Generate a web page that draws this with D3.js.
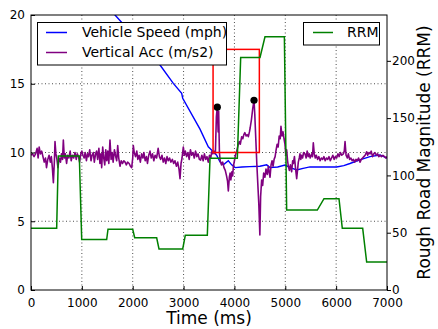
<!DOCTYPE html>
<html>
<head>
<meta charset="utf-8">
<script src="https://cdn.jsdelivr.net/npm/d3@7"></script>
<style>
  body { margin: 0; background: #fff; }
  text { font-family: "DejaVu Sans", sans-serif; }
</style>
</head>
<body>
<div id="chart"></div>
<script>
// Vehicle speed (mph), left axis
const speedData = [
  [1200, 21.9], [1652, 20], [2537, 16.36], [2798, 15.03], [2963, 14.3], [2983, 13.94],
  [3323, 11.7], [3486, 10.42], [3585, 10.06], [3650, 9.8], [3716, 9.33], [3781, 9.1],
  [3880, 9.4], [3946, 9.1], [4012, 8.9], [4150, 8.95], [4300, 8.97], [4500, 9.0],
  [4634, 9.1], [4700, 8.9], [4850, 8.95], [4994, 9.09], [5100, 8.9], [5224, 8.73],
  [5350, 8.85], [5486, 8.95], [5750, 8.95], [6010, 8.95], [6150, 9.05], [6272, 9.2],
  [6450, 9.45], [6665, 9.7], [6862, 9.82], [7000, 9.6]
];

// Vertical acceleration (m/s2), left axis
const accData = [
  [0, 9.8], [30, 9.9], [60, 9.7], [90, 9.9], [120, 10.3], [140, 9.6], [160, 10.4], [185, 9.9],
  [210, 10.1], [235, 9.7], [260, 9.3], [285, 9.6], [305, 8.9], [330, 9.5], [355, 9.8], [380, 9.3],
  [400, 9.7], [420, 8.9], [440, 7.8], [460, 9.4], [472, 10.8], [490, 9.9], [510, 9.5], [530, 8.9],
  [555, 9.6], [580, 9.3], [600, 9.9], [620, 9.5], [636, 10.9], [655, 9.6], [675, 9.9], [700, 9.2],
  [720, 9.8], [745, 9.6], [770, 10.1], [790, 9.4], [815, 9.8], [840, 9.6], [865, 10.0], [890, 9.5],
  [910, 9.9], [935, 9.7], [955, 9.3], [980, 9.9], [1000, 10.1], [1020, 9.8], [1045, 9.6], [1065, 10.0],
  [1090, 9.4], [1110, 9.9], [1130, 9.7], [1155, 10.2], [1180, 9.4], [1200, 9.8], [1225, 10.0], [1245, 9.3],
  [1270, 9.9], [1290, 10.1], [1310, 9.5], [1335, 10.3], [1355, 9.2], [1375, 9.9], [1390, 8.9], [1410, 10.4],
  [1430, 9.6], [1450, 9.1], [1470, 10.2], [1490, 9.4], [1510, 10.1], [1530, 9.2], [1553, 10.9], [1575, 9.5],
  [1595, 10.0], [1615, 9.3], [1640, 10.2], [1660, 9.8], [1685, 9.4], [1705, 10.5], [1725, 9.6], [1750, 9.0],
  [1775, 9.4], [1800, 9.2], [1825, 9.4], [1850, 9.3], [1875, 9.1], [1900, 9.3], [1930, 9.2], [1955, 9.0],
  [1980, 8.9], [2000, 9.6], [2012, 10.5], [2030, 10.0], [2055, 9.7], [2080, 10.1], [2100, 9.5], [2125, 9.8],
  [2150, 9.3], [2175, 9.9], [2200, 9.6], [2220, 10.0], [2245, 9.4], [2270, 9.7], [2290, 9.2], [2315, 9.8],
  [2340, 10.1], [2365, 9.6], [2390, 9.9], [2415, 9.4], [2440, 9.8], [2470, 9.6], [2500, 10.3], [2525, 9.7],
  [2550, 9.5], [2575, 9.8], [2600, 9.3], [2625, 9.6], [2650, 9.2], [2675, 9.7], [2700, 9.4], [2725, 9.6],
  [2750, 9.3], [2780, 9.5], [2805, 9.2], [2830, 9.4], [2860, 9.0], [2885, 9.3], [2910, 8.8], [2930, 8.1],
  [2950, 9.2], [2970, 9.6], [2995, 10.4], [3015, 9.8], [3035, 10.1], [3060, 9.7], [3085, 10.0], [3110, 9.5],
  [3135, 10.2], [3160, 9.8], [3185, 10.0], [3210, 9.6], [3235, 10.1], [3260, 9.7], [3285, 9.9], [3310, 9.5],
  [3335, 9.45], [3360, 9.8], [3385, 9.4], [3410, 9.9], [3435, 9.5], [3460, 9.7], [3485, 9.3], [3510, 9.8],
  [3535, 9.6], [3552, 10.05], [3575, 9.9], [3600, 10.1], [3625, 9.9], [3645, 12.6], [3663, 13.3], [3680, 11.5],
  [3690, 13.0], [3705, 10.0], [3720, 9.4], [3745, 9.1], [3770, 9.3], [3795, 8.9], [3820, 8.7], [3845, 8.3],
  [3865, 7.9], [3880, 7.2], [3900, 8.2], [3915, 8.5], [3930, 8.0], [3950, 8.6], [3965, 8.3], [3980, 9.0],
  [4000, 9.4], [4020, 9.8], [4045, 10.1], [4070, 10.5], [4095, 10.8], [4115, 10.6], [4143, 11.15], [4165, 11.0],
  [4185, 11.3], [4205, 11.44], [4230, 11.2], [4250, 11.3], [4274, 11.15], [4295, 11.5], [4310, 11.8], [4335, 12.4],
  [4360, 13.2], [4385, 13.8], [4400, 12.8], [4420, 11.0], [4440, 9.2], [4460, 7.7], [4480, 6.2], [4500, 4.0],
  [4515, 6.8], [4535, 8.0], [4555, 7.6], [4575, 8.5], [4600, 8.2], [4620, 8.8], [4645, 8.4], [4667, 9.0],
  [4685, 8.5], [4700, 8.2], [4720, 9.1], [4740, 9.4], [4760, 9.0], [4780, 9.5], [4800, 9.7], [4820, 10.2],
  [4840, 10.6], [4860, 10.4], [4880, 11.2], [4900, 11.0], [4915, 11.9], [4935, 11.2], [4955, 11.5], [4975, 11.0],
  [4994, 10.6], [5010, 9.8], [5027, 10.2], [5045, 9.4], [5060, 9.0], [5080, 8.7], [5100, 9.1], [5125, 8.6],
  [5145, 9.4], [5158, 9.2], [5180, 9.7], [5200, 8.9], [5224, 8.1], [5240, 8.7], [5256, 9.3], [5275, 9.6],
  [5289, 9.9], [5305, 9.5], [5320, 9.8], [5340, 9.6], [5360, 10.0], [5387, 9.9], [5410, 9.6], [5430, 10.1],
  [5450, 9.7], [5470, 9.9], [5490, 9.6], [5520, 9.9], [5535, 9.7], [5551, 10.7], [5570, 9.9], [5590, 9.6],
  [5610, 9.8], [5635, 9.5], [5660, 9.7], [5685, 9.4], [5710, 9.6], [5735, 9.5], [5760, 9.7], [5785, 9.4],
  [5810, 9.6], [5835, 9.5], [5860, 9.7], [5885, 9.4], [5910, 9.6], [5935, 9.8], [5960, 9.5], [5985, 9.7],
  [6010, 9.6], [6035, 9.9], [6060, 9.7], [6085, 10.0], [6110, 9.8], [6141, 9.9], [6160, 10.1], [6175, 10.8],
  [6195, 9.8], [6220, 9.6], [6240, 9.9], [6265, 9.5], [6290, 9.6], [6315, 9.4], [6340, 9.5], [6365, 9.3],
  [6390, 9.5], [6415, 9.4], [6440, 9.6], [6470, 9.3], [6495, 9.5], [6520, 9.6], [6545, 9.7], [6570, 9.8],
  [6600, 10.05], [6620, 9.8], [6645, 10.0], [6665, 9.9], [6690, 10.1], [6715, 9.7], [6740, 9.9], [6763, 10.0],
  [6790, 9.8], [6815, 9.9], [6840, 9.7], [6862, 9.8], [6890, 9.7], [6920, 9.8], [6950, 9.7], [6975, 9.6],
  [7000, 9.7]
];

// Rough road magnitude, right axis (step-like, with short ramps)
const rrmData = [
  [0, 54], [505, 54], [537, 117], [950, 117], [997, 44], [1488, 44], [1514, 53], [2000, 53],
  [2039, 45.6], [2471, 45.6], [2517, 35.8], [2983, 35.8], [3034, 47.7], [3467, 47.7], [3520, 115],
  [4057, 115], [4123, 203], [4503, 203], [4601, 221], [4982, 221], [5027, 69.8], [5630, 69.8],
  [5761, 79.7], [6056, 79.7], [6121, 53.8], [6522, 53.8], [6600, 24.4], [7000, 24.4]
];

// Detected peaks and highlight window
const peakData = [[3663, 13.3], [4385, 13.8]];
const boxTime = [3580, 4490];
const boxValue = [10, 17.5];

const xTicks = [0, 1000, 2000, 3000, 4000, 5000, 6000, 7000];
const yTicks = [0, 5, 10, 15, 20];
const y2Ticks = [0, 50, 100, 150, 200];

const W = 438, H = 329;
const margin = { top: 15, right: 51, bottom: 39, left: 31 };
const width = W - margin.left - margin.right;
const height = H - margin.top - margin.bottom;

const svg = d3.select("#chart").append("svg")
  .attr("width", W).attr("height", H);

const g = svg.append("g").attr("transform", `translate(${margin.left},${margin.top})`);

const x = d3.scaleLinear().domain([0, 7000]).range([0, width]);
const y = d3.scaleLinear().domain([0, 20]).range([height, 0]);
const y2 = d3.scaleLinear().domain([0, 240]).range([height, 0]);

g.append("clipPath").attr("id", "clip")
  .append("rect").attr("width", width).attr("height", height);

// Dotted grid
g.selectAll(".vgrid").data(xTicks.slice(1, -1)).enter().append("line")
  .attr("x1", d => x(d)).attr("x2", d => x(d))
  .attr("y1", 0).attr("y2", height)
  .attr("stroke", "#000").attr("stroke-width", 0.7).attr("stroke-dasharray", "1,2.5");
g.selectAll(".hgrid").data(yTicks.slice(1, -1)).enter().append("line")
  .attr("x1", 0).attr("x2", width)
  .attr("y1", d => y(d)).attr("y2", d => y(d))
  .attr("stroke", "#000").attr("stroke-width", 0.7).attr("stroke-dasharray", "1,2.5");

const plot = g.append("g").attr("clip-path", "url(#clip)");

const line = d3.line().x(d => x(d[0])).y(d => y(d[1]));
const line2 = d3.line().x(d => x(d[0])).y(d => y2(d[1]));

plot.append("path").datum(speedData)
  .attr("d", line).attr("fill", "none").attr("stroke", "#0000ff").attr("stroke-width", 1.4);
plot.append("path").datum(accData)
  .attr("d", line).attr("fill", "none").attr("stroke", "#800080").attr("stroke-width", 1.6)
  .attr("stroke-linejoin", "round");

plot.selectAll(".peak").data(peakData).enter().append("circle")
  .attr("cx", d => x(d[0])).attr("cy", d => y(d[1])).attr("r", 3.6).attr("fill", "#000");

plot.append("rect")
  .attr("x", x(boxTime[0])).attr("y", y(boxValue[1]))
  .attr("width", x(boxTime[1]) - x(boxTime[0]))
  .attr("height", y(boxValue[0]) - y(boxValue[1]))
  .attr("fill", "none").attr("stroke", "#ff0000").attr("stroke-width", 1.5);

plot.append("path").datum(rrmData)
  .attr("d", line2).attr("fill", "none").attr("stroke", "#008000").attr("stroke-width", 1.5);

// Frame
g.append("rect").attr("width", width).attr("height", height)
  .attr("fill", "none").attr("stroke", "#000").attr("stroke-width", 1);

// Axes
const axisFont = 12;
const xAxis = g.append("g").attr("transform", `translate(0,${height})`)
  .call(d3.axisBottom(x).tickValues(xTicks).tickFormat(d3.format("d"))
    .tickSizeInner(-4).tickSizeOuter(0).tickPadding(8));
const yAxis = g.append("g")
  .call(d3.axisLeft(y).tickValues(yTicks).tickFormat(d3.format("d"))
    .tickSizeInner(-4).tickSizeOuter(0).tickPadding(6));
const y2Axis = g.append("g").attr("transform", `translate(${width},0)`)
  .call(d3.axisRight(y2).tickValues(y2Ticks).tickFormat(d3.format("d"))
    .tickSizeInner(4).tickSizeOuter(0).tickPadding(1));
[xAxis, yAxis, y2Axis].forEach(a => {
  a.select(".domain").remove();
  a.selectAll("text").attr("font-size", axisFont).attr("font-family", "DejaVu Sans").attr("fill", "#000");
});

svg.append("text")
  .attr("x", margin.left + width / 2).attr("y", 324)
  .attr("text-anchor", "middle").attr("font-size", 17)
  .text("Time (ms)");

svg.append("text")
  .attr("transform", `translate(430,${margin.top + height / 2}) rotate(-90)`)
  .attr("text-anchor", "middle").attr("font-size", 17)
  .text("Rough Road Magnitude (RRM)");

// Legends
const legendFont = 14;
const leg1 = svg.append("g");
leg1.append("rect").attr("x", 37.5).attr("y", 22.5).attr("width", 189).attr("height", 42.5)
  .attr("fill", "#fff").attr("stroke", "#000").attr("stroke-width", 1);
[["Vehicle Speed (mph)", "#0000ff", 32.5], ["Vertical Acc (m/s2)", "#800080", 52.5]].forEach(([label, color, ly]) => {
  leg1.append("line").attr("x1", 46).attr("x2", 67).attr("y1", ly).attr("y2", ly)
    .attr("stroke", color).attr("stroke-width", 1.5);
  leg1.append("text").attr("x", 82).attr("y", ly).attr("dy", "0.35em")
    .attr("font-size", legendFont).text(label);
});

const leg2 = svg.append("g");
leg2.append("rect").attr("x", 303.5).attr("y", 22.5).attr("width", 76).attr("height", 22.5)
  .attr("fill", "#fff").attr("stroke", "#000").attr("stroke-width", 1);
leg2.append("line").attr("x1", 313).attr("x2", 333).attr("y1", 32.5).attr("y2", 32.5)
  .attr("stroke", "#008000").attr("stroke-width", 1.5);
leg2.append("text").attr("x", 347).attr("y", 32.5).attr("dy", "0.35em")
  .attr("font-size", legendFont).text("RRM");
</script>
</body>
</html>
